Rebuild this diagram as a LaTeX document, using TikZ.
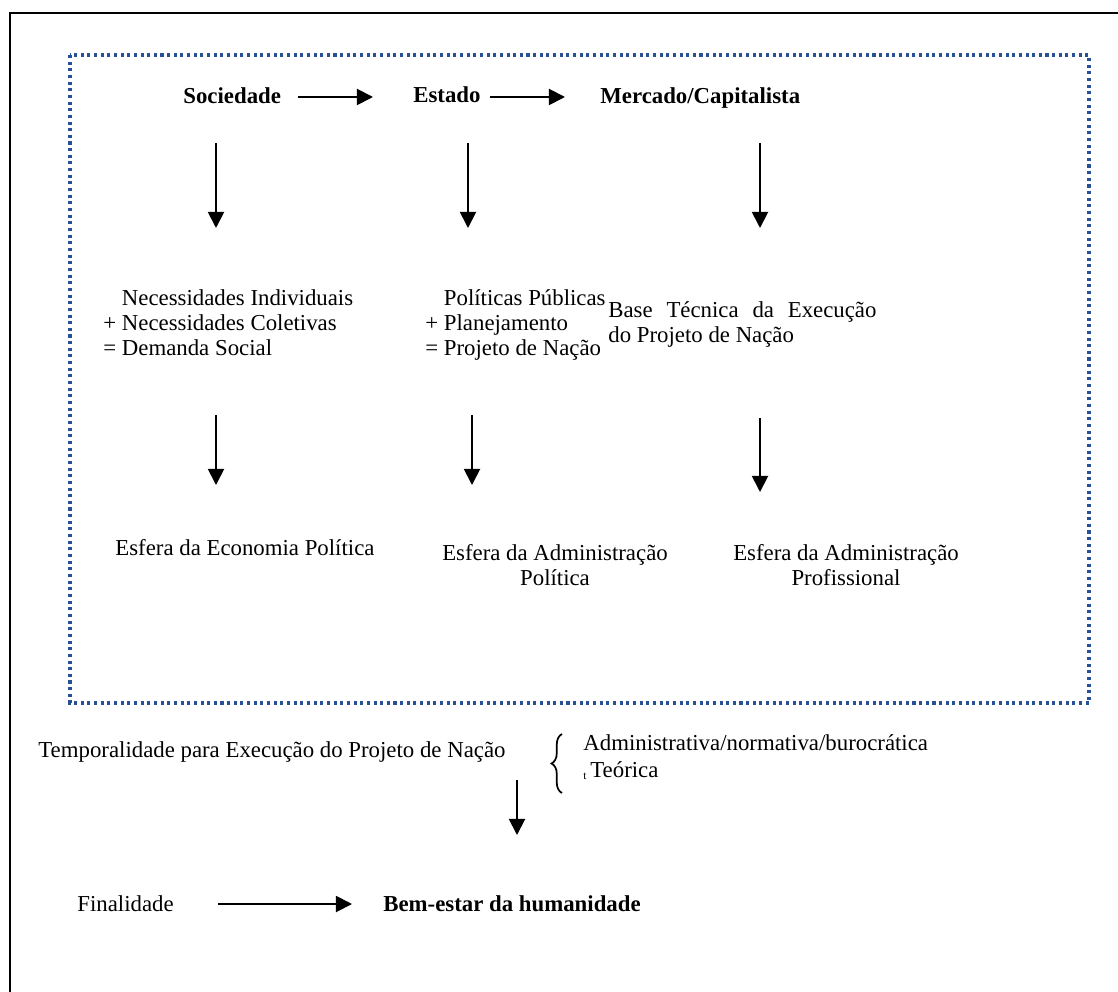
\documentclass[tikz,border=0pt]{standalone}
\usepackage{fontspec}
\setmainfont{Liberation Serif}
\usetikzlibrary{arrows.meta,decorations.pathreplacing}
\definecolor{dotblue}{RGB}{40,80,150}
\begin{document}
\begin{tikzpicture}[x=0.526pt,y=-0.526pt,
  txt/.style={inner sep=0pt,anchor=base west,font=\fontsize{12}{13.7}\selectfont},
  ctxt/.style={txt,anchor=base},
  btxt/.style={inner sep=0pt,anchor=base west,font=\fontsize{12}{13.7}\selectfont\bfseries},
  arr/.style={line width=1pt,-{Triangle[width=8.5pt,length=8.5pt]}},
  frameline/.style={line width=1.2pt},
  dotbox/.style={draw=dotblue,line width=1.7pt,dash pattern=on 1.6pt off 1.9pt},
  bracestyle/.style={line width=0.9pt,decorate,decoration={brace,amplitude=5.5pt}}]
\useasboundingbox (0,0) rectangle (1118,992);
% frames
\draw[frameline] (1130,13) -- (10,13) -- (10,1005);
\draw[dotbox] (70,55) rectangle (1089,703);
% top row
\node[btxt] (soc) at (183,104) {Sociedade};
\node[btxt] (est) at (413,103) {Estado};
\node[btxt] (merc) at (600,104) {Mercado/Capitalista};
\coordinate (h1a) at (298,97); \coordinate (h1b) at (373,97);
\coordinate (h2a) at (490,97); \coordinate (h2b) at (565,97);
\draw[arr] (h1a) -- (h1b);
\draw[arr] (h2a) -- (h2b);
% first down arrows
\coordinate (d1a) at (216,143); \coordinate (d1b) at (216,228);
\coordinate (d2a) at (468,143); \coordinate (d2b) at (468,228);
\coordinate (d3a) at (760,143); \coordinate (d3b) at (760,228);
\draw[arr] (d1a) -- (d1b);
\draw[arr] (d2a) -- (d2b);
\draw[arr] (d3a) -- (d3b);
% middle blocks
\node[txt] (n1) at (103,306) {\phantom{+ }Necessidades Individuais};
\node[txt] (n2) at (103,331) {+ Necessidades Coletivas};
\node[txt] (n3) at (103,356) {= Demanda Social};
\node[txt] (p1) at (425,306) {\phantom{+ }Políticas Públicas};
\node[txt] (p2) at (425,331) {+ Planejamento};
\node[txt] (p3) at (425,356) {= Projeto de Nação};
\node[txt] (b1) at (608,318) {\makebox[141pt][s]{Base Técnica da Execução}};
\node[txt] (b2) at (608,343) {do Projeto de Nação};
% second down arrows
\coordinate (e1a) at (216,415); \coordinate (e1b) at (216,485);
\coordinate (e2a) at (472,415); \coordinate (e2b) at (472,485);
\coordinate (e3a) at (760,418); \coordinate (e3b) at (760,492);
\draw[arr] (e1a) -- (e1b);
\draw[arr] (e2a) -- (e2b);
\draw[arr] (e3a) -- (e3b);
% spheres
\node[txt] (s1) at (115,555) {Esfera da Economia Política};
\node[ctxt] (s2a) at (555,560) {Esfera da Administração};
\node[ctxt] (s2b) at (555,585) {Política};
\node[ctxt] (s3a) at (846,560) {Esfera da Administração};
\node[ctxt] (s3b) at (846,585) {Profissional};
% temporality
\node[txt] (temp) at (38,757) {Temporalidade para Execução do Projeto de Nação};
\draw[bracestyle] (562,793) -- (562,734);
\node[txt] (adm) at (583,750) {Administrativa/normativa/burocrática};
\node[txt] (teo) at (583,777) {\raisebox{-1.5pt}{\fontsize{6}{6}\selectfont t}\,Teórica};
\coordinate (fa) at (517,780); \coordinate (fb) at (517,835);
\draw[arr] (fa) -- (fb);
% finality
\node[txt] (fin) at (77,911) {Finalidade};
\node[btxt] (bem) at (383,911) {Bem-estar da humanidade};
\coordinate (ga) at (218,904); \coordinate (gb) at (352,904);
\draw[arr] (ga) -- (gb);
\end{tikzpicture}
\end{document}
